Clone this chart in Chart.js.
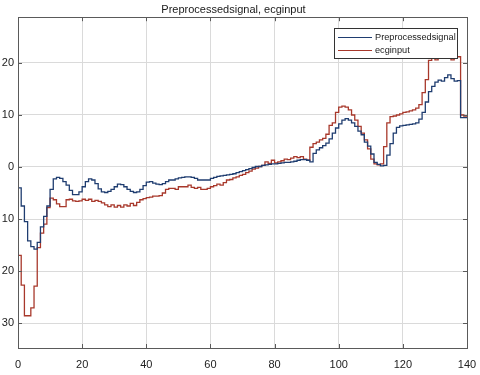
<!DOCTYPE html>
<html>
<head>
<meta charset="utf-8">
<script src="https://cdn.jsdelivr.net/npm/chart.js@4.4.0/dist/chart.umd.min.js"></script>
<style>
  html, body { margin: 0; padding: 0; background: #fff; }
  #c { display: block; }
</style>
</head>
<body>
<canvas id="c" width="480" height="375"></canvas>
<script>
// sample index 0..140
var samples = [];
for (var i = 0; i <= 140; i++) samples.push(i);

var preprocessed = [
  -4, -4, -7.5, -10.5, -14.2, -15.3, -15.8, -14.5, -11.5, -9.5,
  -7.5, -4.3, -2.3, -2, -2.2, -2.8, -3.5, -4.5, -5.3, -5.3,
  -4.8, -3.8, -2.8, -2.3, -2.5, -3.2, -4.2, -4.8, -4.9, -4.7,
  -4.3, -3.8, -3.3, -3.4, -3.8, -4.3, -4.7, -4.9, -4.8, -4.3,
  -3.6, -2.9, -2.8, -3.1, -3.3, -3.4, -3.2, -2.8, -2.5, -2.5,
  -2.3, -2.1, -2, -1.9, -1.9, -2, -2.2, -2.5, -2.5, -2.5,
  -2.5, -2.2, -2, -1.8, -1.7, -1.6, -1.5, -1.4, -1.3, -1.1,
  -0.9, -0.7, -0.5, -0.3, -0.1, 0.1, 0.1, 0.3, 0.4, 0.5,
  0.6, 0.6, 0.7, 0.8, 0.9, 0.9, 1.0, 1.1, 1.3, 1.4,
  1.4, 1.3, 1.0, 2.6, 3.3, 3.7, 4.1, 4.6, 5.4, 6.5,
  7.5, 8.3, 9.0, 9.3, 9.0, 8.5, 7.8, 6.9, 6.2, 4.8,
  4.0, 2.5, 0.9, 0.5, 0.2, 0.3, 2.3, 4.5, 6.5, 7.6,
  7.9, 8.0, 8.1, 8.2, 8.3, 8.5, 9.2, 10.5, 12.5, 14.5,
  15.5, 16.3, 16.7, 16.5, 17.2, 17.7, 17.0, 16.5, 16.6, 9.5,
  9.5
];

var ecginput = [
  -8.3, -17, -22.7, -28.6, -28.6, -27.1, -22.9, -15.5, -12.7, -11,
  -7.8, -6, -6.3, -7.1, -7.6, -7.6, -6.3, -6.2, -6.5, -6.6,
  -6.5, -6.2, -6.4, -6.2, -6.6, -6.4, -6.6, -6.9, -7.3, -7.6,
  -7.3, -7.7, -7.4, -7.7, -7.3, -7.5, -7.0, -7.4, -6.8, -6.3,
  -6.1, -5.9, -5.8, -5.6, -5.6, -5.5, -5.0, -4.3, -4.1, -4.1,
  -4.3, -3.8, -3.8, -3.8, -3.5, -3.9, -4.1, -3.9, -4.3, -4.3,
  -4.1, -3.8, -3.6, -3.3, -3.5, -3.0, -2.5, -2.4, -2.1, -1.9,
  -1.6, -1.4, -1.1, -0.8, -0.4, -0.2, 0.1, 0.3, 1.0, 0.7,
  1.3, 0.8, 1.0, 1.2, 1.5, 1.4, 1.7, 2.0, 1.8, 2.0,
  1.5, 1.3, 3.8, 4.5, 4.8, 5.2, 5.5, 6.3, 8.0, 8.5,
  10.5, 11.5, 11.7, 11.5, 11.0, 10.0, 9.0, 7.8, 6.5, 5.2,
  3.5, 1.5, 0.6, 0.4, 0.6, 3.9, 8.5, 9.7, 9.8, 10.0,
  10.2, 10.5, 10.6, 10.8, 11.0, 11.3, 12.0, 14.3, 16.8, 20.5,
  21.3, 20.6, 21.3, 21.4, 21.4, 21.3, 20.6, 21.4, 21.2, 10,
  9.8
];

var xTicks = [0, 20, 40, 60, 80, 100, 120, 140];
var yTicks = [-30, -20, -10, 0, 10, 20];
var seriesNames = ['Preprocessedsignal', 'ecginput'];
var seriesColors = ['#1f3d70', '#a8382b'];

function toPoints(ys) {
  return samples.map(function (x, i) { return {x: x, y: ys[i]}; });
}

var FONT = "'Liberation Sans', Arial, Helvetica, sans-serif";

// axes box with inward ticks, drawn on top like matlab
var boxPlugin = {
  id: 'box',
  afterDatasetsDraw: function (chart) {
    var a = chart.chartArea, ctx = chart.ctx;
    var xs = chart.scales.x, ys = chart.scales.y;
    ctx.save();
    ctx.strokeStyle = '#5a5a5a';
    ctx.lineWidth = 1;
    ctx.strokeRect(Math.round(a.left) + 0.5, Math.round(a.top) + 0.5,
      Math.round(a.right - a.left), Math.round(a.bottom - a.top));
    ctx.beginPath();
    xTicks.forEach(function (v) {
      var px = Math.round(xs.getPixelForValue(v)) + 0.5;
      ctx.moveTo(px, a.bottom); ctx.lineTo(px, a.bottom - 4);
      ctx.moveTo(px, a.top); ctx.lineTo(px, a.top + 4);
    });
    yTicks.forEach(function (v) {
      var py = Math.round(ys.getPixelForValue(v)) + 0.5;
      ctx.moveTo(a.left, py); ctx.lineTo(a.left + 4, py);
      ctx.moveTo(a.right, py); ctx.lineTo(a.right - 4, py);
    });
    ctx.stroke();
    ctx.restore();
  },
  afterDraw: function (chart) {
    // legend box, upper right inside the axes
    var ctx = chart.ctx;
    var bx = 334.5, by = 28.5, bw = 123, bh = 30;
    ctx.save();
    ctx.fillStyle = '#fff';
    ctx.fillRect(bx, by, bw, bh);
    ctx.strokeStyle = '#333';
    ctx.lineWidth = 1;
    ctx.strokeRect(bx, by, bw, bh);
    ctx.font = '9.2px ' + FONT;
    ctx.textBaseline = 'middle';
    seriesNames.forEach(function (name, i) {
      var y = 37.5 + i * 13;
      ctx.strokeStyle = seriesColors[i];
      ctx.lineWidth = 1.2;
      ctx.beginPath();
      ctx.moveTo(338, y); ctx.lineTo(372, y);
      ctx.stroke();
      ctx.fillStyle = '#1a1a1a';
      ctx.fillText(name, 375, y);
    });
    ctx.restore();
  }
};

new Chart(document.getElementById('c').getContext('2d'), {
  type: 'line',
  data: {
    datasets: [{
      label: seriesNames[0],
      data: toPoints(preprocessed),
      borderColor: seriesColors[0],
      borderWidth: 1.3,
      stepped: 'after',
      pointRadius: 0,
      fill: false
    }, {
      label: seriesNames[1],
      data: toPoints(ecginput),
      borderColor: seriesColors[1],
      borderWidth: 1.3,
      stepped: 'after',
      pointRadius: 0,
      fill: false
    }]
  },
  options: {
    responsive: false,
    animation: false,
    layout: { padding: { left: 0, right: 13, top: 0, bottom: 0 } },
    plugins: {
      legend: { display: false },
      tooltip: { enabled: false },
      title: {
        display: true,
        text: 'Preprocessedsignal, ecginput',
        color: '#1a1a1a',
        font: { family: FONT, size: 11, weight: 'normal' },
        padding: { top: 3, bottom: 1 }
      }
    },
    scales: {
      x: {
        type: 'linear',
        min: 0,
        max: 140,
        afterFit: function (s) { s.height = 27; s.paddingLeft = 0; s.paddingRight = 0; },
        afterBuildTicks: function (s) { s.ticks = xTicks.map(function (v) { return {value: v}; }); },
        grid: { color: '#dadada', drawTicks: false },
        border: { display: false },
        ticks: { color: '#222', padding: 10, maxRotation: 0, font: { family: FONT, size: 11 } }
      },
      y: {
        type: 'linear',
        min: -34.8,
        max: 28.8,
        afterFit: function (s) { s.width = 18; s.paddingTop = 0; s.paddingBottom = 0; },
        afterBuildTicks: function (s) { s.ticks = yTicks.map(function (v) { return {value: v}; }); },
        grid: { color: '#dadada', drawTicks: false },
        border: { display: false },
        ticks: {
          color: '#222',
          padding: 4,
          font: { family: FONT, size: 11 },
          // the source figure prints the labels without minus signs
          callback: function (v) { return String(Math.abs(v)); }
        }
      }
    }
  },
  plugins: [boxPlugin]
});
</script>
</body>
</html>
